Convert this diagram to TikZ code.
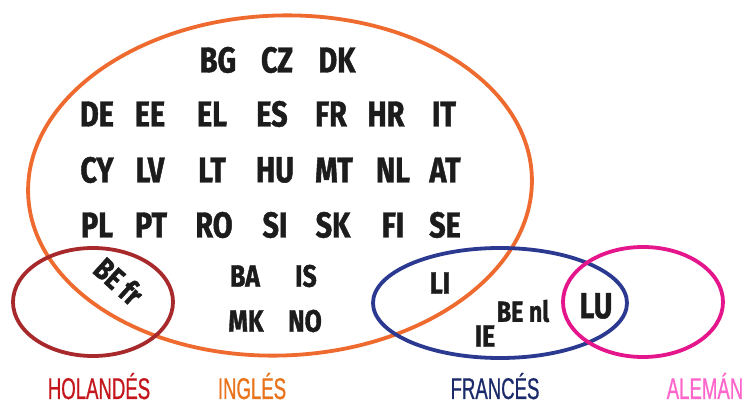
\documentclass[tikz,border=0pt]{standalone}
\usepackage{fontspec}
\usetikzlibrary{shapes.geometric}
\newfontfamily\codefont{Fira Sans}[FakeStretch=0.8,FakeBold=1.2]
\newfontfamily\langfont{Liberation Sans}[FakeStretch=0.62,FakeBold=0.6]
\definecolor{cIng}{HTML}{EE6A2E}
\definecolor{cHol}{HTML}{A8292B}
\definecolor{cFra}{HTML}{2B3990}
\definecolor{cAle}{HTML}{E5158C}
\definecolor{tHol}{HTML}{C4161C}
\definecolor{tIng}{HTML}{E8731A}
\definecolor{tFra}{HTML}{1B2A6B}
\definecolor{tAle}{HTML}{FF66CC}
\definecolor{ink}{HTML}{1C1C1C}
\tikzset{
  setel/.style={draw=#1, line width=3.8pt, ellipse, inner sep=0pt},
  code/.style={text=ink, inner sep=0pt, font=\codefont\bfseries\fontsize{36}{36}\selectfont},
  codes/.style={text=ink, inner sep=0pt, font=\codefont\bfseries\fontsize{31}{31}\selectfont},
  lang/.style={inner sep=0pt, anchor=base, font=\langfont\fontsize{30}{30}\selectfont}
}
\begin{document}
\begin{tikzpicture}[x=1pt,y=-1pt]
\useasboundingbox[fill=white] (0,0) rectangle (750,403);
% sets
\node[setel=cIng, minimum width=504pt, minimum height=340pt, rotate=2] (ingles) at (280,185.5) {};
\node[setel=cHol, minimum width=160pt, minimum height=108pt] (holandes) at (93,302) {};
\node[setel=cFra, minimum width=254pt, minimum height=110pt] (frances) at (500,303) {};
\node[setel=cAle, minimum width=160pt, minimum height=110pt] (aleman) at (643,302) {};
% row 1
\node[code] (BG) at (218,60) {BG};
\node[code] (CZ) at (277,60) {CZ};
\node[code] (DK) at (337,60) {DK};
% row 2
\node[code] (DE) at (97,114) {DE};
\node[code] (EE) at (150,114) {EE};
\node[code] (EL) at (212,114) {EL};
\node[code] (ES) at (272,114) {ES};
\node[code] (FR) at (331,114) {FR};
\node[code] (HR) at (386,114) {HR};
\node[code] (IT) at (444,114) {IT};
% row 3
\node[code] (CY) at (97,170) {CY};
\node[code] (LV) at (150,170) {LV};
\node[code] (LT) at (212,170) {LT};
\node[code] (HU) at (275,170) {HU};
\node[code] (MT) at (334,170) {MT};
\node[code] (NL) at (393,170) {NL};
\node[code] (AT) at (445,170) {AT};
% row 4
\node[code] (PL) at (97,225) {PL};
\node[code] (PT) at (151,225) {PT};
\node[code] (RO) at (214,225) {RO};
\node[code] (SI) at (275,225) {SI};
\node[code] (SK) at (333,225) {SK};
\node[code] (FI) at (393,225) {FI};
\node[code] (SE) at (445,225) {SE};
% lower group
\node[codes] (BA) at (245,276) {BA};
\node[codes] (IS) at (306,276) {IS};
\node[codes] (MK) at (246,321) {MK};
\node[codes] (NO) at (305,321) {NO};
\node[codes, rotate=-42, font=\codefont\bfseries\fontsize{31}{31}\selectfont] (BEfr) at (119,281) {BE fr};
\node[codes] (LI) at (440,283) {LI};
\node[codes] (IE) at (485,336) {IE};
\node[codes, font=\codefont\bfseries\fontsize{29}{29}\selectfont] (BEnl) at (523,311) {BE nl};
\node[code] (LU) at (596,306) {LU};
% language labels
\node[lang, text=tHol] (lHol) at (99,399) {HOLANDÉS};
\node[lang, text=tIng] (lIng) at (252,399) {INGLÉS};
\node[lang, text=tFra] (lFra) at (495,399) {FRANCÉS};
\node[lang, text=tAle] (lAle) at (705,399) {ALEMÁN};
\end{tikzpicture}
\end{document}
